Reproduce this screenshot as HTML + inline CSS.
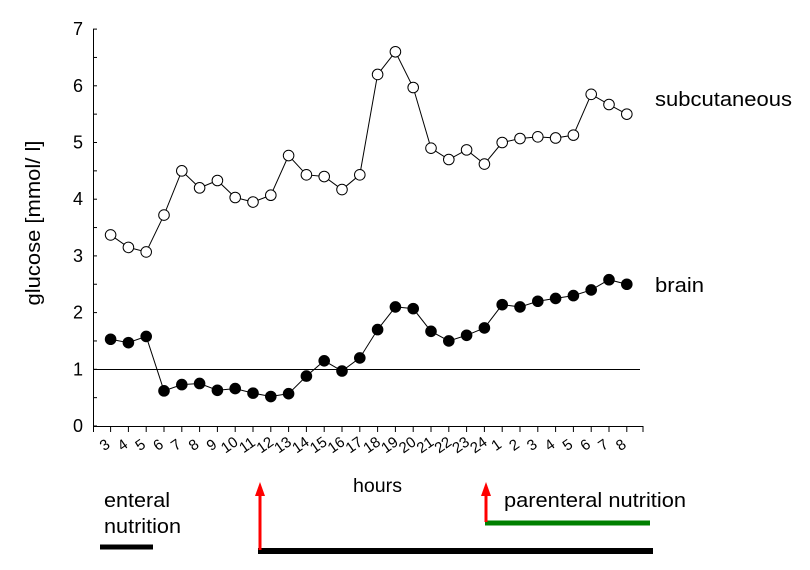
<!DOCTYPE html>
<html><head><meta charset="utf-8"><style>body{margin:0;background:#fff}svg{display:block}text{font-family:"Liberation Sans",Arial,sans-serif}</style></head><body>
<svg width="810" height="570" viewBox="0 0 810 570">
<g stroke="#000" stroke-width="1" fill="none">
<line x1="93.5" y1="29" x2="93.5" y2="426"/>
<line x1="93" y1="426.5" x2="643" y2="426.5"/>
<line x1="93" y1="369.5" x2="640" y2="369.5"/>
<g id="yt"></g><g id="xt"></g>
</g>
<g id="yl" font-size="18" text-anchor="middle"></g>
<g id="xl" font-size="15"></g>
<text transform="translate(40,223) rotate(-90)" font-size="20" text-anchor="middle" textLength="165" lengthAdjust="spacingAndGlyphs">glucose [mmol/ l]</text>
<text x="655" y="106" font-size="20" textLength="137" lengthAdjust="spacingAndGlyphs">subcutaneous</text>
<text x="655" y="292" font-size="20" textLength="49" lengthAdjust="spacingAndGlyphs">brain</text>
<text x="353" y="492" font-size="19" textLength="49" lengthAdjust="spacingAndGlyphs">hours</text>
<text x="104" y="507" font-size="20" textLength="66" lengthAdjust="spacingAndGlyphs">enteral</text>
<text x="104" y="533" font-size="20" textLength="77" lengthAdjust="spacingAndGlyphs">nutrition</text>
<text x="504" y="507" font-size="20" textLength="182" lengthAdjust="spacingAndGlyphs">parenteral nutrition</text>
<line x1="100" y1="547" x2="153" y2="547" stroke="#000" stroke-width="5"/>
<line x1="258" y1="551" x2="653" y2="551" stroke="#000" stroke-width="6"/>
<line x1="485" y1="523" x2="650" y2="523" stroke="#008000" stroke-width="5"/>
<line x1="260" y1="550" x2="260" y2="492" stroke="#f00" stroke-width="3"/>
<polygon points="260,482 255,496 265,496" fill="#f00"/>
<line x1="486" y1="522" x2="486" y2="492" stroke="#f00" stroke-width="3"/>
<polygon points="486,482 481,496 491,496" fill="#f00"/>
<g id="s"></g>
</svg>
<script>
var ns="http://www.w3.org/2000/svg";
function el(p,t,a,txt){var e=document.createElementNS(ns,t);for(var k in a)e.setAttribute(k,a[k]);if(txt!=null)e.textContent=txt;document.getElementById(p).appendChild(e);return e;}
var y0=426,u=56.7,x0=110.6,dx=17.8;
function Y(v){return y0-v*u;}function X(i){return x0+i*dx;}
for(var v=0;v<=7;v+=0.5){var y=Y(v);el("yt","line",{x1:93,y1:y,x2:97,y2:y});if(v%1==0)el("yl","text",{x:78,y:y+6},v);}
el("xt","line",{x1:93.5,y1:426,x2:93.5,y2:432});
var lab=[3,4,5,6,7,8,9,10,11,12,13,14,15,16,17,18,19,20,21,22,23,24,1,2,3,4,5,6,7,8];
for(var i=0;i<30;i++){var x=X(i);el("xt","line",{x1:x,y1:426,x2:x,y2:432});el("xl","text",{transform:"translate("+(x-3)+",449) rotate(-35)","text-anchor":"middle"},lab[i]);}
el("xt","line",{x1:643,y1:426,x2:643,y2:432});
var sc=[3.37,3.15,3.07,3.72,4.5,4.2,4.33,4.03,3.95,4.07,4.77,4.43,4.4,4.17,4.43,6.2,6.6,5.97,4.9,4.7,4.87,4.62,5.0,5.07,5.1,5.08,5.13,5.85,5.67,5.5];
var br=[1.53,1.47,1.58,0.62,0.73,0.75,0.63,0.66,0.58,0.52,0.57,0.88,1.15,0.97,1.2,1.7,2.1,2.07,1.67,1.5,1.6,1.73,2.14,2.1,2.2,2.25,2.3,2.4,2.58,2.5];
function series(d,fill){var p=d.map(function(v,i){return X(i)+","+Y(v)}).join(" ");el("s","polyline",{points:p,fill:"none",stroke:"#000","stroke-width":1});d.forEach(function(v,i){el("s","circle",{cx:X(i),cy:Y(v),r:5.3,fill:fill,stroke:"#000","stroke-width":1});});}
series(sc,"#fff");series(br,"#000");
</script>
</body></html>
